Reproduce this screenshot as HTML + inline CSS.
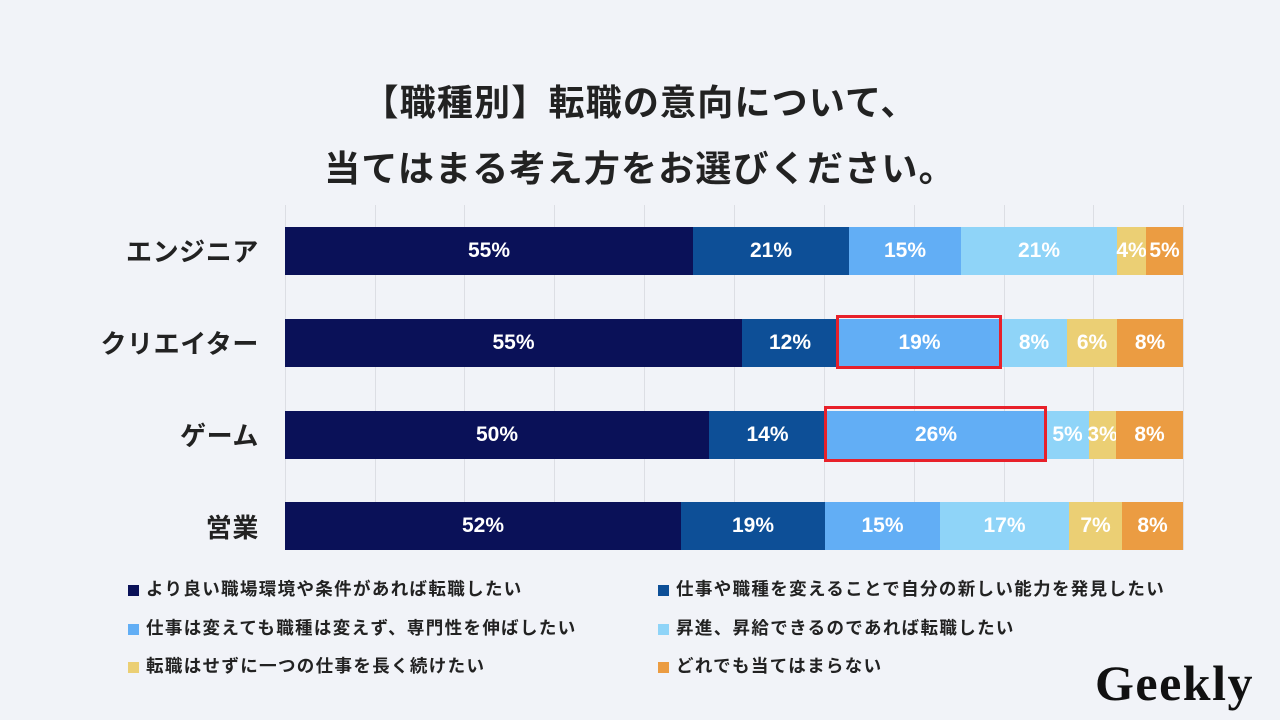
<!DOCTYPE html>
<html><head><meta charset="utf-8"><style>
body{margin:0;width:1280px;height:720px;background:#f1f3f8;position:relative;overflow:hidden;font-family:"Liberation Sans","Noto Sans CJK JP",sans-serif;}
.t{position:absolute;left:0;width:1280px;text-align:center;font-size:36px;font-weight:bold;color:#222;letter-spacing:1.2px}
.g{position:absolute;top:205px;height:345px;width:1px;background:#dcdee4}
.seg{position:absolute;height:48px;color:#fff;font-weight:bold;font-size:21px;display:flex;align-items:center;justify-content:center;overflow:visible;white-space:nowrap}
.lab{position:absolute;right:1021px;font-size:26px;font-weight:bold;color:#222;letter-spacing:0.6px}
.lg{position:absolute;font-size:17.5px;font-weight:bold;color:#222;letter-spacing:1.35px}
.lg i{display:inline-block;width:11px;height:11px;margin-right:7px;vertical-align:-1px}
.box{position:absolute;border:3px solid #e8202a;box-sizing:border-box}
</style></head><body>
<div class="t" style="top:74px">【職種別】転職の意向について、</div>
<div class="t" style="top:140px">当てはまる考え方をお選びください。</div>
<div class="g" style="left:285px"></div><div class="g" style="left:375px"></div><div class="g" style="left:464px"></div><div class="g" style="left:554px"></div><div class="g" style="left:644px"></div><div class="g" style="left:734px"></div><div class="g" style="left:824px"></div><div class="g" style="left:914px"></div><div class="g" style="left:1004px"></div><div class="g" style="left:1093px"></div><div class="g" style="left:1183px"></div>

<div class="lab" style="top:232px">エンジニア</div>
<div class="lab" style="top:324px">クリエイター</div>
<div class="lab" style="top:416px">ゲーム</div>
<div class="lab" style="top:508px">営業</div>

<div class="seg" style="top:227px;left:285px;width:408px;background:#0a1158">55%</div>
<div class="seg" style="top:227px;left:693px;width:156px;background:#0d4f97">21%</div>
<div class="seg" style="top:227px;left:849px;width:112px;background:#62aef5">15%</div>
<div class="seg" style="top:227px;left:961px;width:156px;background:#8fd4f8">21%</div>
<div class="seg" style="top:227px;left:1117px;width:29px;background:#ebcf74">4%</div>
<div class="seg" style="top:227px;left:1146px;width:37px;background:#eb9c42">5%</div>

<div class="seg" style="top:319px;left:285px;width:457px;background:#0a1158">55%</div>
<div class="seg" style="top:319px;left:742px;width:96px;background:#0d4f97">12%</div>
<div class="seg" style="top:319px;left:838px;width:163px;background:#62aef5">19%</div>
<div class="seg" style="top:319px;left:1001px;width:66px;background:#8fd4f8">8%</div>
<div class="seg" style="top:319px;left:1067px;width:50px;background:#ebcf74">6%</div>
<div class="seg" style="top:319px;left:1117px;width:66px;background:#eb9c42">8%</div>
<div class="box" style="left:836px;top:315px;width:166px;height:54px"></div>

<div class="seg" style="top:411px;left:285px;width:424px;background:#0a1158">50%</div>
<div class="seg" style="top:411px;left:709px;width:117px;background:#0d4f97">14%</div>
<div class="seg" style="top:411px;left:826px;width:220px;background:#62aef5">26%</div>
<div class="seg" style="top:411px;left:1046px;width:43px;background:#8fd4f8">5%</div>
<div class="seg" style="top:411px;left:1089px;width:27px;background:#ebcf74">3%</div>
<div class="seg" style="top:411px;left:1116px;width:67px;background:#eb9c42">8%</div>
<div class="box" style="left:824px;top:406px;width:223px;height:56px"></div>

<div class="seg" style="top:502px;left:285px;width:396px;background:#0a1158">52%</div>
<div class="seg" style="top:502px;left:681px;width:144px;background:#0d4f97">19%</div>
<div class="seg" style="top:502px;left:825px;width:115px;background:#62aef5">15%</div>
<div class="seg" style="top:502px;left:940px;width:129px;background:#8fd4f8">17%</div>
<div class="seg" style="top:502px;left:1069px;width:53px;background:#ebcf74">7%</div>
<div class="seg" style="top:502px;left:1122px;width:61px;background:#eb9c42">8%</div>

<div class="lg" style="left:128px;top:576px"><i style="background:#0a1158"></i>より良い職場環境や条件があれば転職したい</div>
<div class="lg" style="left:658px;top:576px"><i style="background:#0d4f97"></i>仕事や職種を変えることで自分の新しい能力を発見したい</div>
<div class="lg" style="left:128px;top:615px"><i style="background:#62aef5"></i>仕事は変えても職種は変えず、専門性を伸ばしたい</div>
<div class="lg" style="left:658px;top:615px"><i style="background:#8fd4f8"></i>昇進、昇給できるのであれば転職したい</div>
<div class="lg" style="left:128px;top:653px"><i style="background:#ebcf74"></i>転職はせずに一つの仕事を長く続けたい</div>
<div class="lg" style="left:658px;top:653px"><i style="background:#eb9c42"></i>どれでも当てはまらない</div>

<div style="position:absolute;left:1095px;top:654px;font-family:'Liberation Serif',serif;font-weight:bold;font-size:50px;color:#111;letter-spacing:1.5px">Geekly</div>
</body></html>
